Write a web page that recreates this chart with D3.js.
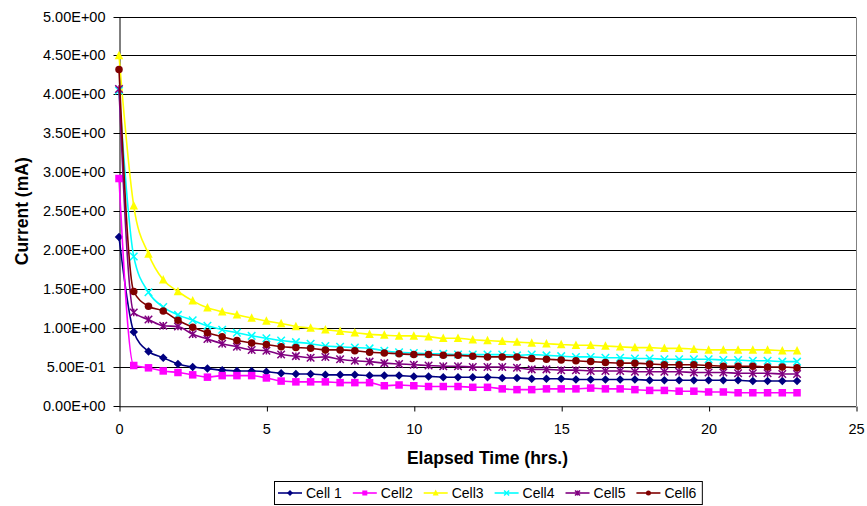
<!DOCTYPE html>
<html>
<head>
<meta charset="utf-8">
<script src="https://cdn.jsdelivr.net/npm/d3@7"></script>
<style>
  html, body { margin: 0; padding: 0; background: #fff; }
  svg { display: block; font-family: "Liberation Sans", Arial, sans-serif; }
</style>
</head>
<body>
<svg id="chart" width="867" height="506"></svg>
<script>
const times = [0,0.5,1,1.5,2,2.5,3,3.5,4,4.5,5,5.5,6,6.5,7,7.5,8,8.5,9,9.5,10,10.5,11,11.5,12,12.5,13,13.5,14,14.5,15,15.5,16,16.5,17,17.5,18,18.5,19,19.5,20,20.5,21,21.5,22,22.5,23];

const cell1 = [2.17,0.95,0.70,0.62,0.54,0.50,0.48,0.46,0.45,0.45,0.44,0.42,0.41,0.41,0.40,0.40,0.40,0.39,0.39,0.39,0.38,0.38,0.37,0.37,0.37,0.37,0.36,0.36,0.35,0.35,0.35,0.34,0.34,0.34,0.34,0.34,0.33,0.33,0.33,0.33,0.33,0.33,0.33,0.32,0.32,0.32,0.32];
const cell2 = [2.92,0.52,0.49,0.45,0.43,0.40,0.37,0.39,0.39,0.39,0.36,0.32,0.31,0.31,0.31,0.30,0.30,0.30,0.26,0.27,0.26,0.25,0.25,0.25,0.24,0.24,0.22,0.21,0.21,0.22,0.22,0.22,0.23,0.22,0.22,0.21,0.20,0.20,0.19,0.19,0.18,0.18,0.17,0.17,0.17,0.17,0.17];
const cell3 = [4.50,2.57,1.95,1.62,1.47,1.35,1.26,1.21,1.17,1.13,1.09,1.06,1.02,1.00,0.98,0.96,0.94,0.92,0.91,0.90,0.90,0.89,0.87,0.87,0.85,0.84,0.83,0.82,0.81,0.80,0.79,0.78,0.78,0.77,0.76,0.75,0.75,0.74,0.74,0.73,0.72,0.72,0.72,0.72,0.72,0.71,0.71];
const cell4 = [4.05,1.92,1.46,1.27,1.17,1.10,1.03,0.98,0.94,0.90,0.87,0.84,0.82,0.80,0.77,0.76,0.75,0.74,0.71,0.69,0.68,0.67,0.67,0.66,0.66,0.66,0.66,0.65,0.66,0.65,0.64,0.63,0.63,0.62,0.62,0.61,0.61,0.60,0.60,0.60,0.60,0.59,0.59,0.58,0.58,0.57,0.57];
const cell5 = [4.07,1.20,1.11,1.03,1.02,0.92,0.86,0.80,0.76,0.72,0.71,0.66,0.64,0.62,0.63,0.60,0.58,0.57,0.55,0.54,0.53,0.52,0.51,0.51,0.50,0.50,0.50,0.49,0.47,0.47,0.46,0.46,0.45,0.45,0.45,0.44,0.44,0.44,0.44,0.43,0.43,0.43,0.42,0.42,0.42,0.41,0.41];
const cell6 = [4.32,1.47,1.28,1.22,1.10,1.01,0.94,0.89,0.84,0.81,0.79,0.76,0.75,0.74,0.72,0.72,0.71,0.69,0.68,0.67,0.66,0.66,0.65,0.65,0.64,0.63,0.63,0.63,0.61,0.60,0.59,0.58,0.57,0.56,0.55,0.55,0.54,0.53,0.53,0.53,0.52,0.51,0.51,0.51,0.50,0.50,0.49];

const seriesNames = ["Cell 1","Cell2","Cell3","Cell4","Cell5","Cell6"];
const seriesValues = [cell1, cell2, cell3, cell4, cell5, cell6];
const seriesColors = ["#000080","#FF00FF","#FFFF00","#00FFFF","#800080","#800000"];
const seriesMarkers = ["diamond","square","triangle","x","star","circle"];

const xTicks = [0,5,10,15,20,25];
const yTicks = [0,0.5,1,1.5,2,2.5,3,3.5,4,4.5,5];
const yTickLabels = ["0.00E+00","5.00E-01","1.00E+00","1.50E+00","2.00E+00","2.50E+00","3.00E+00","3.50E+00","4.00E+00","4.50E+00","5.00E+00"];

const xTitle = "Elapsed Time (hrs.)";
const yTitle = "Current (mA)";

const svg = d3.select("#chart");
const L = 119, R = 856, T = 16.5, B = 406;
const x = d3.scaleLinear().domain([0,25]).range([L,R]);
const y = d3.scaleLinear().domain([0,5]).range([B,T]);
const FONT = "Liberation Sans, Arial, sans-serif";

// gridlines
svg.append("g").selectAll("line").data(yTicks).join("line")
  .attr("x1", L).attr("x2", R)
  .attr("y1", d => Math.round(y(d)) + 0.5).attr("y2", d => Math.round(y(d)) + 0.5)
  .attr("stroke", "#000").attr("stroke-width", 1);

// right border
svg.append("line").attr("x1", R + 0.5).attr("x2", R + 0.5).attr("y1", Math.round(T)+0.5).attr("y2", B)
  .attr("stroke", "#808080");

// axes
const xAxis = svg.append("g").attr("transform", `translate(0,${Math.round(B)+0.5})`)
  .call(d3.axisBottom(x).tickValues(xTicks).tickSize(5).tickPadding(12).tickSizeOuter(0).tickFormat(d3.format("d")));
xAxis.select(".domain").attr("stroke", "#808080");
xAxis.selectAll(".tick line").attr("stroke", "#000").attr("transform", "translate(0.5,0)");
xAxis.selectAll("text").attr("font-size", "14.5px").attr("fill", "#000").attr("font-family", FONT);

const yAxis = svg.append("g").attr("transform", `translate(${L+0.5},0)`)
  .call(d3.axisLeft(y).tickValues(yTicks).tickSize(6).tickPadding(8).tickSizeOuter(0)
    .tickFormat((d,i) => yTickLabels[i]));
yAxis.select(".domain").attr("stroke", "#000");
yAxis.selectAll(".tick line").attr("stroke", "#000");
yAxis.selectAll(".tick").attr("transform", d => `translate(0,${Math.round(y(d))+0.5})`);
yAxis.selectAll("text").attr("font-size", "14.5px").attr("fill", "#000").attr("font-family", FONT);

// titles
svg.append("text").attr("x", (L+R)/2).attr("y", 464).attr("text-anchor", "middle")
  .attr("font-weight", "bold").attr("font-size", "17.5px").attr("font-family", FONT).text(xTitle);
svg.append("text").attr("transform", `translate(28,${(T+B)/2}) rotate(-90)`).attr("text-anchor", "middle")
  .attr("font-weight", "bold").attr("font-size", "17.5px").attr("font-family", FONT).text(yTitle);

// marker drawing
function drawMarker(g, type, color, s) {
  const h = s / 2;
  if (type === "diamond") {
    g.append("path").attr("d", `M0,${-h-0.5}L${h+0.5},0L0,${h+0.5}L${-h-0.5},0Z`).attr("fill", color);
  } else if (type === "square") {
    g.append("rect").attr("x", -h).attr("y", -h).attr("width", s).attr("height", s).attr("fill", color);
  } else if (type === "triangle") {
    g.append("path").attr("d", `M0,${-h-1}L${h+0.5},${h}L${-h-0.5},${h}Z`).attr("fill", color);
  } else if (type === "circle") {
    g.append("circle").attr("r", h).attr("fill", color);
  } else if (type === "x") {
    g.append("path").attr("d", `M${-h},${-h}L${h},${h}M${-h},${h}L${h},${-h}`).attr("stroke", color).attr("stroke-width", 1.5).attr("fill", "none");
  } else if (type === "star") {
    g.append("path").attr("d", `M${-h},${-h}L${h},${h}M${-h},${h}L${h},${-h}M0,${-h}L0,${h}`).attr("stroke", color).attr("stroke-width", 1.5).attr("fill", "none");
  }
}

const line = d3.line().x((d,i) => x(times[i])).y(d => y(d)).curve(d3.curveMonotoneX);

const plot = svg.append("g");
seriesValues.forEach((vals, si) => {
  const g = plot.append("g");
  g.append("path").attr("d", line(vals)).attr("fill", "none")
    .attr("stroke", seriesColors[si]).attr("stroke-width", 1.6);
  vals.forEach((v, i) => {
    const m = g.append("g").attr("transform", `translate(${x(times[i])},${y(v)})`);
    drawMarker(m, seriesMarkers[si], seriesColors[si], 7.5);
  });
});

// legend
const lg = svg.append("g");
const box = lg.append("rect").attr("x", 274.5).attr("y", 481.5).attr("height", 23)
  .attr("fill", "#fff").attr("stroke", "#000");
let cx = 278;
const ly = 493;
seriesNames.forEach((name, si) => {
  lg.append("line").attr("x1", cx).attr("x2", cx + 24).attr("y1", ly).attr("y2", ly)
    .attr("stroke", seriesColors[si]).attr("stroke-width", 1.6);
  const m = lg.append("g").attr("transform", `translate(${cx+12},${ly})`);
  drawMarker(m, seriesMarkers[si], seriesColors[si], 5);
  const t = lg.append("text").attr("x", cx + 28).attr("y", ly).attr("dy", "0.35em")
    .attr("font-size", "14px").attr("font-family", FONT).text(name);
  const w = t.node().getComputedTextLength();
  cx = cx + 28 + w + 11;
});
box.attr("width", cx - 11 + 6 - 274.5);
</script>
</body>
</html>
